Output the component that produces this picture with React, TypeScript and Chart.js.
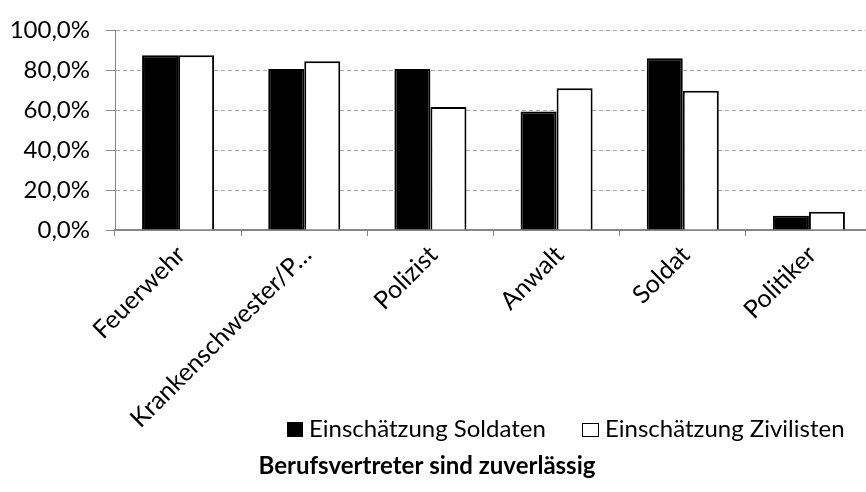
import { useEffect, useRef } from "react";
import { Chart, registerables } from "chart.js";

Chart.register(...registerables);

const categories = ["Feuerwehr", "Krankenschwester/P…", "Polizist", "Anwalt", "Soldat", "Politiker"];
const soldatenValues = [87.6, 80.6, 80.6, 59.4, 86.0, 7.1];
const zivilistenValues = [87.6, 84.6, 61.6, 71.0, 69.8, 9.2];
const seriesNames = ["Einschätzung Soldaten", "Einschätzung Zivilisten"];
const chartTitle = "Berufsvertreter sind zuverlässig";
const yMin = 0;
const yMax = 100;
const yStep = 20;

const FONT = "Lato, Carlito, 'Open Sans', sans-serif";
const GRID = "#a6a6a6";
const AXIS = "#868686";

const legendTitlePlugin = {
  id: "legendTitle",
  afterDraw(chart: any) {
    const ctx = chart.ctx as CanvasRenderingContext2D;
    ctx.save();
    ctx.fillStyle = "#000";
    ctx.textBaseline = "alphabetic";
    ctx.textAlign = "left";
    ctx.font = `24px ${FONT}`;
    // series 1
    ctx.fillRect(287, 422, 16, 15);
    ctx.fillText(seriesNames[0], 309, 437);
    // series 2
    ctx.fillStyle = "#fff";
    ctx.fillRect(582, 423, 17, 14);
    ctx.strokeStyle = "#000";
    ctx.lineWidth = 1;
    ctx.strokeRect(582.5, 423.5, 16, 13);
    ctx.fillStyle = "#000";
    ctx.fillText(seriesNames[1], 605, 437);
    // title
    ctx.font = `bold 24px ${FONT}`;
    ctx.textAlign = "center";
    ctx.fillText(chartTitle, 427, 474);
    ctx.restore();
  },
};

export default function App() {
  const ref = useRef<HTMLCanvasElement>(null);

  useEffect(() => {
    const canvas = ref.current;
    if (!canvas) return;
    const chart = new Chart(canvas, {
      type: "bar",
      data: {
        labels: categories,
        datasets: [
          {
            label: seriesNames[0],
            data: soldatenValues,
            backgroundColor: "#000",
            borderColor: "#000",
            borderWidth: 2,
            categoryPercentage: 0.571,
            barPercentage: 1,
          },
          {
            label: seriesNames[1],
            data: zivilistenValues,
            backgroundColor: "#fff",
            borderColor: "#000",
            borderWidth: 2,
            categoryPercentage: 0.571,
            barPercentage: 1,
          },
        ],
      },
      options: {
        responsive: false,
        animation: false,
        devicePixelRatio: 1,
        layout: { padding: { top: 20, right: 8, left: 0, bottom: 0 } },
        plugins: {
          legend: { display: false },
          title: { display: false },
          tooltip: { enabled: false },
        },
        scales: {
          x: {
            grid: {
              offset: true,
              drawOnChartArea: false,
              drawTicks: true,
              tickLength: 6,
              color: AXIS,
              lineWidth: 1,
            },
            border: { display: true, color: AXIS, width: 2 },
            ticks: {
              maxRotation: 45,
              minRotation: 45,
              autoSkip: false,
              padding: 4,
              labelOffset: 3,
              color: "#000",
              font: { family: FONT, size: 25 },
            },
            afterFit: (s: any) => {
              s.height = 262;
            },
          },
          y: {
            min: yMin,
            max: yMax,
            ticks: {
              stepSize: yStep,
              padding: 16,
              color: "#000",
              font: { family: FONT, size: 24 },
              callback: (v: any) => Number(v).toFixed(1).replace(".", ",") + "%",
            },
            grid: {
              color: GRID,
              lineWidth: 1,
              tickLength: 9,
              tickColor: AXIS,
              tickBorderDash: [],
            },
            border: { display: true, color: AXIS, width: 1, dash: [4, 3] },
            afterFit: (s: any) => {
              s.width = 115;
            },
          },
        },
      },
      plugins: [legendTitlePlugin],
    });
    return () => chart.destroy();
  }, []);

  return (
    <div
      style={{
        position: "fixed",
        left: 0,
        top: 0,
        width: 866,
        height: 492,
        overflow: "hidden",
        background: "#fff",
      }}
    >
      <canvas ref={ref} width={880} height={492} style={{ display: "block", width: 880, height: 492 }} />
    </div>
  );
}
